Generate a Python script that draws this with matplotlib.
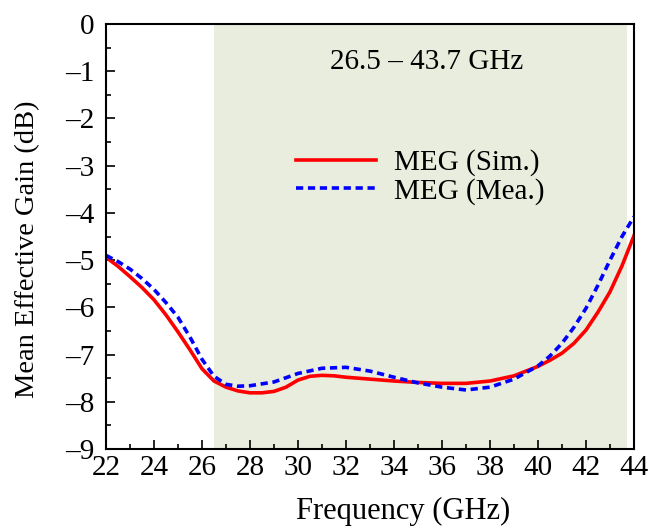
import numpy as np
import matplotlib.pyplot as plt
from matplotlib.ticker import MultipleLocator

plt.rcParams['font.family'] = ['Liberation Serif', 'DejaVu Serif']

# frequency (GHz) and mean effective gain (dB)
freq_sim = [22, 22.5, 23, 23.5, 24, 24.5, 25, 25.5, 26, 26.5, 27, 27.5, 28, 28.5, 29, 29.5, 30, 30.5,
            31, 31.5, 32, 33, 34, 35, 36, 37, 38, 39, 40, 40.5, 41, 41.5, 42, 42.5, 43, 43.5, 44]
meg_sim = [-4.94, -5.13, -5.35, -5.58, -5.84, -6.16, -6.52, -6.9, -7.3, -7.56, -7.69, -7.77, -7.81,
           -7.81, -7.78, -7.69, -7.54, -7.46, -7.44, -7.45, -7.48, -7.52, -7.56, -7.59, -7.61,
           -7.61, -7.56, -7.45, -7.25, -7.12, -6.97, -6.76, -6.48, -6.1, -5.67, -5.12, -4.48]

freq_mea = [22, 22.5, 23, 23.5, 24, 24.5, 25, 25.5, 26, 26.5, 27, 27.5, 28, 29, 30, 31, 32, 33, 34,
            35, 36, 37, 38, 39, 40, 40.5, 41, 41.5, 42, 42.5, 43, 43.5, 44]
meg_mea = [-4.9, -5.03, -5.19, -5.39, -5.62, -5.9, -6.21, -6.63, -7.1, -7.46, -7.63, -7.67, -7.66,
           -7.58, -7.4, -7.29, -7.27, -7.35, -7.48, -7.6, -7.69, -7.75, -7.69, -7.52, -7.24, -7.03,
           -6.76, -6.42, -6.02, -5.53, -5.0, -4.5, -4.08]

band = (26.5, 43.7)

fig = plt.figure(figsize=(6.49, 5.30), dpi=100)
ax = fig.add_axes([0.1633, 0.1528, 0.8136, 0.8019])

ax.axvspan(band[0], band[1], color='#e9eddd', zorder=0, lw=0)
ax.plot(freq_sim, meg_sim, color='#ff0000', lw=2.6, label='MEG (Sim.)')
ax.plot(freq_mea, meg_mea, color='#0000ff', lw=2.6, ls=(0, (2.0, 1.3)), label='MEG (Mea.)')

ax.set_xlim(22, 44)
ax.set_ylim(-9, 0)
ax.xaxis.set_major_locator(MultipleLocator(2))
ax.xaxis.set_minor_locator(MultipleLocator(1))
ax.yaxis.set_minor_locator(MultipleLocator(0.5))
ax.tick_params(which='both', direction='in', top=False, right=False, labelsize=21, width=1.2)
ax.tick_params(which='major', length=6.5)
ax.tick_params(which='minor', length=3.5)
ax.tick_params(axis='x', pad=4.5)
ax.tick_params(axis='y', pad=8)
ax.set_yticks(range(-9, 1))
ax.set_yticklabels(['0' if v == 0 else '\u2013%d' % -v for v in range(-9, 1)])
for s in ax.spines.values():
    s.set_linewidth(1.5)

ax.set_xlabel('Frequency (GHz)', fontsize=22)
ax.set_ylabel('Mean Effective Gain (dB)', fontsize=20.5)
ax.xaxis.set_label_coords(0.5625, -0.112)
ax.yaxis.set_label_coords(-0.125, 0.47)

ax.text(35.375, -0.8, '26.5 \u2013 43.7 GHz', fontsize=21, ha='center', va='center')
ax.legend(loc='center', bbox_to_anchor=(0.595, 0.64), frameon=False, fontsize=21,
          handlelength=2.75, labelspacing=0.05, handletextpad=0.6)

fig.savefig('out.png', dpi=100)
